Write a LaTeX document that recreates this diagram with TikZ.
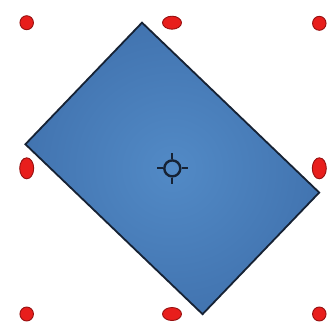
\documentclass[tikz,border=0pt]{standalone}
\usepackage{tikz}
\usetikzlibrary{calc,shapes.geometric}
\definecolor{boxblue}{RGB}{82,138,198}
\definecolor{boxedge}{RGB}{66,116,176}
\definecolor{boxline}{RGB}{22,34,52}
\definecolor{handlered}{RGB}{232,30,28}
\definecolor{handleline}{RGB}{150,16,16}
\tikzset{
  handle/.style = {ellipse, draw = handleline, fill = handlered, line width = 0.9pt, inner sep = 0pt},
  cornerhandle/.style = {handle, minimum width = 13.5pt, minimum height = 14pt},
  widehandle/.style = {handle, minimum width = 19pt, minimum height = 13pt},
  tallhandle/.style = {handle, minimum width = 14pt, minimum height = 21pt},
}
\begin{document}
\begin{tikzpicture}[x = 1pt, y = -1pt]
    % frame
    \useasboundingbox(0,0)rectangle(329,325);
    \path[fill = white](0,0)rectangle(329,325);
    % shape
    \coordinate(C)at(172.3,168.4);
    \node(box)[draw = boxline, line width = 1.8pt, inner color = boxblue, outer color = boxedge,
        rotate = -43.8, minimum width = 245.5pt, minimum height = 168.5pt, inner sep = 0pt]at(C){};
    % pivot
    \node(pivot)[circle, draw = boxline, line width = 2.4pt, minimum size = 16pt, inner sep = 0pt]at(C){};
    \path[draw, line width = 2pt, boxline](pivot.north)to($(C)+(0,-15.5)$);
    \path[draw, line width = 2pt, boxline](pivot.south)to($(C)+(0,15.5)$);
    \path[draw, line width = 2pt, boxline](pivot.west)to($(C)+(-15.5,0)$);
    \path[draw, line width = 2pt, boxline](pivot.east)to($(C)+(15.5,0)$);
    % handles
    \node(tl)[cornerhandle]at(26.7,22.7){};
    \node(tm)[widehandle]at(172,22.7){};
    \node(tr)[cornerhandle]at(319.3,23.3){};
    \node(ml)[tallhandle]at(26.7,168.3){};
    \node(mr)[tallhandle]at(319.3,168.3){};
    \node(bl)[cornerhandle]at(26.7,314){};
    \node(bm)[widehandle]at(172,314){};
    \node(br)[cornerhandle]at(319.3,314){};
\end{tikzpicture}
\end{document}
